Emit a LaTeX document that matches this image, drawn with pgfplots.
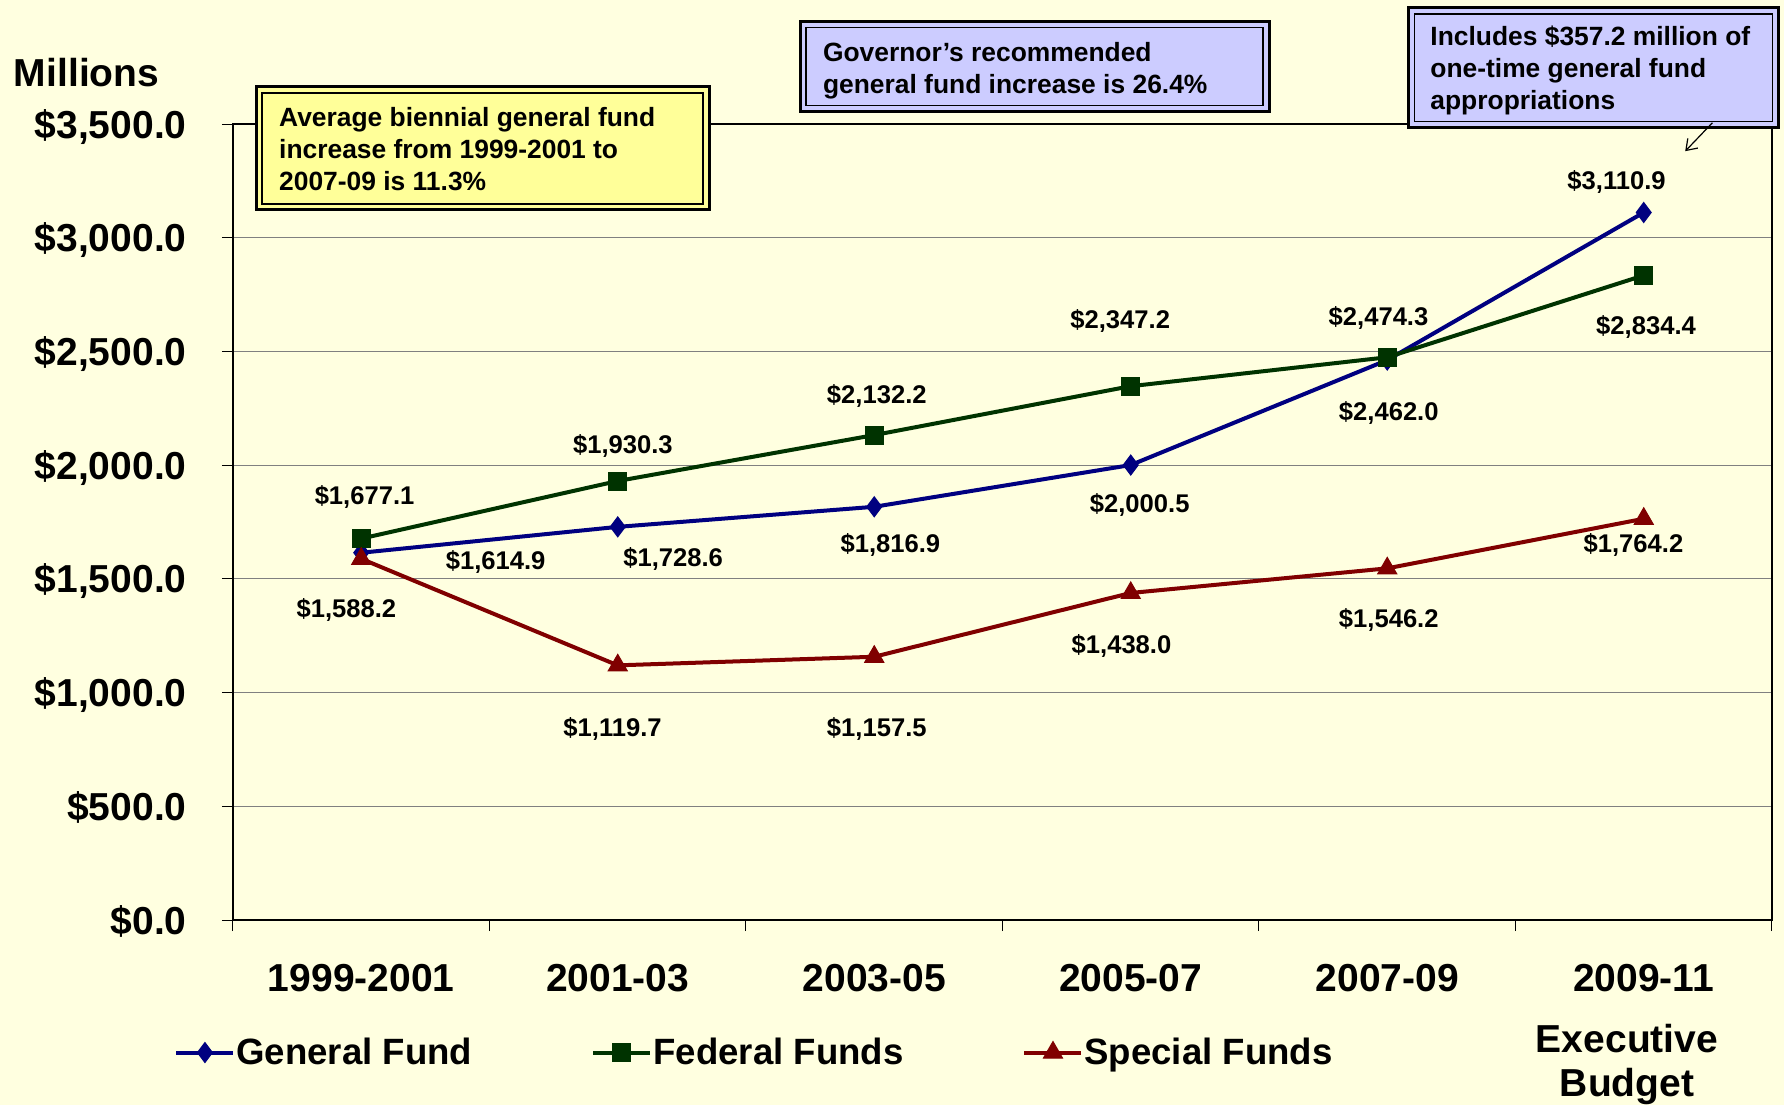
\documentclass[border=0pt]{standalone}
\usepackage{pgfplots}
\pgfplotsset{compat=1.18}
\usepackage{fontspec}
\setmainfont{Liberation Sans}
\usetikzlibrary{arrows.meta}
\definecolor{bg}{HTML}{FFFFE0}
\definecolor{gf}{HTML}{000080}
\definecolor{ff}{HTML}{003300}
\definecolor{sf}{HTML}{800000}
\definecolor{yel}{HTML}{FFFF99}
\definecolor{lav}{HTML}{CCCCFF}
\newcommand{\lbl}{\fontsize{12.8}{15}\selectfont\bfseries}
\newcommand{\boxf}{\fontsize{13.2}{16}\selectfont\bfseries}
\newcommand{\bigf}{\fontsize{19.5}{22}\selectfont\bfseries}
\begin{document}
\begin{tikzpicture}
\fill[bg] (-116.5pt,-92.5pt) rectangle (775.5pt,460pt);
\useasboundingbox (-116.5pt,-92.5pt) rectangle (775.5pt,460pt);
\begin{axis}[
  at={(0pt,0pt)}, anchor=south west,
  scale only axis, width=769.5pt, height=398pt,
  xmin=-0.5, xmax=5.5, ymin=0, ymax=3500,
  axis line style={line width=1pt, black},
  axis background/.style={fill=bg},
  xtick={0,...,5},
  xticklabels={1999-2001,2001-03,2003-05,2005-07,2007-09,2009-11},
  major x tick style={draw=none},
  minor xtick={-0.5,0.5,...,5.5},
  ytick={0,500,...,3500},
  yticklabels={\$0.0,\$500.0,{\$1,000.0},{\$1,500.0},{\$2,000.0},{\$2,500.0},{\$3,000.0},{\$3,500.0}},
  tick align=outside, major tick length=5.5pt, minor tick length=5.5pt,
  tick style={black, line width=0.5pt},
  xtick pos=bottom, ytick pos=left,
  ymajorgrids, grid style={gray, line width=0.5pt},
  ticklabel style={font=\bigf},
  yticklabel style={anchor=base east, inner sep=0pt, xshift=-17.5pt, yshift=-7pt},
  xticklabel style={anchor=base, inner sep=0pt, yshift=-30.2pt},
  legend columns=3,
  legend style={at={(axis description cs:-0.0383,-0.1665)}, anchor=west, draw=none, fill=none,
    inner sep=0pt, font=\fontsize{18.3}{22}\selectfont\bfseries,
    nodes={inner sep=0.5pt},
    /tikz/every even column/.append style={column sep=59pt}},
  legend image code/.code={\draw[mark repeat=2,mark phase=2,#1] plot coordinates {(0pt,0pt)(14.25pt,0pt)(28.5pt,0pt)};},
]
\addplot[gf, line width=2pt, mark=diamond*, mark size=5pt, mark options={solid, line width=0.5pt}]
  coordinates {(0,1614.9)(1,1728.6)(2,1816.9)(3,2000.5)(4,2462.0)(5,3110.9)};
\addlegendentry{General Fund}
\addplot[ff, line width=2pt, mark=square*, mark size=4.5pt, mark options={solid, line width=0.5pt}]
  coordinates {(0,1677.1)(1,1930.3)(2,2132.2)(3,2347.2)(4,2474.3)(5,2834.4)};
\addlegendentry{Federal Funds}
\addplot[sf, line width=2pt, mark=triangle*, mark size=5.5pt, mark options={solid, line width=0.5pt}]
  coordinates {(0,1588.2)(1,1119.7)(2,1157.5)(3,1438.0)(4,1546.2)(5,1764.2)};
\addlegendentry{Special Funds}
% data labels
\begin{scope}[every node/.style={font=\lbl, anchor=base, inner sep=0pt}]
\node at (axis cs:0.524,1540) {\$1,614.9};
\node at (axis cs:1.216,1555) {\$1,728.6};
\node at (axis cs:2.063,1615) {\$1,816.9};
\node at (axis cs:3.035,1790) {\$2,000.5};
\node at (axis cs:4.006,2195) {\$2,462.0};
\node at (axis cs:4.894,3210) {\$3,110.9};
\node at (axis cs:0.013,1825) {\$1,677.1};
\node at (axis cs:1.020,2050) {\$1,930.3};
\node at (axis cs:2.010,2270) {\$2,132.2};
\node at (axis cs:2.959,2600) {\$2,347.2};
\node at (axis cs:3.966,2615) {\$2,474.3};
\node at (axis cs:5.009,2575) {\$2,834.4};
\node at (axis cs:-0.058,1330) {\$1,588.2};
\node at (axis cs:0.980,805) {\$1,119.7};
\node at (axis cs:2.010,805) {\$1,157.5};
\node at (axis cs:2.964,1170) {\$1,438.0};
\node at (axis cs:4.006,1285) {\$1,546.2};
\node at (axis cs:4.960,1615) {\$1,764.2};
\end{scope}
\end{axis}
% Millions
\node[anchor=base west, inner sep=0pt, font=\bigf] at (-109.7pt,416.8pt) {Millions};
% Executive Budget
\node[anchor=base, inner sep=0pt, font=\bigf] at (697pt,-66.25pt) {Executive};
\node[anchor=base, inner sep=0pt, font=\bigf] at (697pt,-88.4pt) {Budget};
% Yellow box
\filldraw[fill=yel, draw=black, line width=1.5pt] (11.5pt,355pt) rectangle (238pt,416.5pt);
\draw[black, line width=0.6pt] (14.5pt,358pt) rectangle (235pt,413.5pt);
\begin{scope}[every node/.style={font=\boxf, anchor=base west, inner sep=0pt}]
\node at (22.9pt,396.7pt) {Average biennial general fund};
\node at (22.9pt,380.75pt) {increase from 1999-2001 to};
\node at (22.9pt,364.8pt) {2007-09 is 11.3\%};
\end{scope}
% Governor box
\filldraw[fill=lav, draw=black, line width=1.5pt] (283.5pt,404.3pt) rectangle (518pt,449.2pt);
\draw[black, line width=0.6pt] (286.5pt,407.3pt) rectangle (515pt,446.2pt);
\begin{scope}[every node/.style={font=\boxf, anchor=base west, inner sep=0pt}]
\node at (294.8pt,429.1pt) {Governor’s recommended};
\node at (294.8pt,413.2pt) {general fund increase is 26.4\%};
\end{scope}
% Includes box
\filldraw[fill=lav, draw=black, line width=1.5pt] (587.8pt,396.3pt) rectangle (772.7pt,456pt);
\draw[black, line width=0.6pt] (590.8pt,399.3pt) rectangle (769.7pt,453pt);
\begin{scope}[every node/.style={font=\boxf, anchor=base west, inner sep=0pt}]
\node at (598.5pt,437.1pt) {Includes \$357.2 million of};
\node at (598.5pt,421.2pt) {one-time general fund};
\node at (598.5pt,405.2pt) {appropriations};
\end{scope}
\draw[black, line width=0.6pt, -{Straight Barb[length=5pt,width=7pt]}] (739.7pt,398.6pt) -- (726.1pt,384.4pt);
\end{tikzpicture}
\end{document}
